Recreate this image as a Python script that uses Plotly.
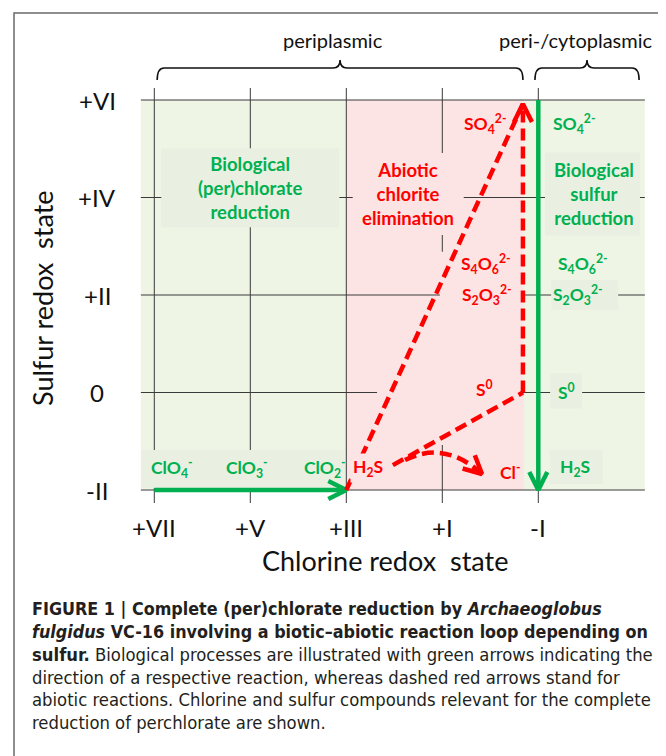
import math
import plotly.graph_objects as go

# ---------------- data ----------------
chlorine_ticks = [7, 5, 3, 1, -1]
chlorine_labels = ["+VII", "+V", "+III", "+I", "-I"]
sulfur_ticks = [6, 4, 2, 0, -2]
sulfur_labels = ["+VI", "+IV", "+II", "0", "-II"]

# background regions along the chlorine axis
region_x0 = [7.28, 3.0]
region_x1 = [-3.22, -0.70]
region_kind = ["bio", "abiotic"]

# process labels
process_text = ["Biological<br>(per)chlorate<br>reduction",
                "Abiotic<br>chlorite<br>elimination",
                "Biological<br>sulfur<br>reduction"]
process_x = [5.0, 1.71, -2.16]
process_y = [4.2, 4.07, 4.07]
process_kind = ["bio", "abiotic", "bio"]

# compound labels
compound_text = ["ClO<sub>4</sub><sup>-</sup>", "ClO<sub>3</sub><sup>-</sup>",
                 "ClO<sub>2</sub><sup>-</sup>", "H<sub>2</sub>S", "Cl<sup>-</sup>",
                 "SO<sub>4</sub><sup>2-</sup>", "S<sub>4</sub>O<sub>6</sub><sup>2-</sup>",
                 "S<sub>2</sub>O<sub>3</sub><sup>2-</sup>", "S<sup>0</sup>",
                 "SO<sub>4</sub><sup>2-</sup>", "S<sub>4</sub>O<sub>6</sub><sup>2-</sup>",
                 "S<sub>2</sub>O<sub>3</sub><sup>2-</sup>", "S<sup>0</sup>", "H<sub>2</sub>S"]
compound_x = [6.63, 5.07, 3.44, 2.55, -0.43, 0.11, 0.09, 0.07, 0.13,
              -1.76, -1.93, -1.83, -1.58, -1.76]
compound_y = [-1.55, -1.55, -1.55, -1.55, -1.63, 5.51, 2.64, 2.0, 0.09,
              5.51, 2.64, 2.0, 0.03, -1.55]
compound_kind = ["bio", "bio", "bio", "abiotic", "abiotic", "abiotic", "abiotic",
                 "abiotic", "abiotic", "bio", "bio", "bio", "bio", "bio"]
compound_on_top = [False, False, False, True, False, False, False, False, False,
                   False, False, False, False, False]

# biological reactions (solid green arrows)
bio_x0 = [7, -1]
bio_y0 = [-2, 6]
bio_x1 = [3, -1]
bio_y1 = [-2, -2]

# abiotic reactions (dashed red arrows); head = draw arrowhead at end
abio_x0 = [3, 2.03, -0.68]
abio_y0 = [-2, -1.49, 0.0]
abio_x1 = [-0.68, -0.68, -0.68]
abio_y1 = [5.92, 0.0, 5.92]
abio_head = [False, False, True]
# curved abiotic reaction H2S -> Cl-  (start, control, end)
curve_x = [1.777, 0.944, 0.173]
curve_y = [-1.385, -0.975, -1.672]

# compartments (brackets)
bracket_text = ["periplasmic", "peri-/cytoplasmic"]
bracket_x0 = [6.94, -0.93]
bracket_x1 = [-0.68, -3.10]
bracket_label_x = [3.28, -1.785]

caption_lines = [
    "<b>FIGURE 1 | Complete (per)chlorate reduction by <i>Archaeoglobus</i></b>",
    "<b><i>fulgidus</i> VC-16 involving a biotic\u2013abiotic reaction loop depending on</b>",
    "<b>sulfur.</b> Biological processes are illustrated with green arrows indicating the",
    "direction of a respective reaction, whereas dashed red arrows stand for",
    "abiotic reactions. Chlorine and sulfur compounds relevant for the complete",
    "reduction of perchlorate are shown.",
]

# ---------------- styles ----------------
W, H = 666, 756
OFF = 8  # page body margin
XR = (3 + (346.3 - OFF) / 48.0, 3 + (346.3 - OFF) / 48.0 - W / 48.0)
YR = (6 + (100 - OFF) / 48.75 - H / 48.75, 6 + (100 - OFF) / 48.75)
GREEN = "#00B050"
RED = "#FF0000"
BG = {"bio": "#EEF5E5", "abiotic": "#FDE4E4"}
BOX = {"bio": "#E9F0E1", "abiotic": "#FDE4E4"}
TXT = {"bio": GREEN, "abiotic": RED}
GRID = "#3a3a3a"
FONT = "Lato, Carlito, 'Open Sans', sans-serif"
CAPFONT = "'Liberation Sans Narrow', 'DejaVu Sans Condensed', 'Liberation Sans', sans-serif"
cap_size = [17.8, 17.8, 18.3, 18.3, 18.3, 18.3]

# label box geometry in px: (width, height, x offset, y offset)
process_box = [(178, 79, 0, 0), (111, 82, 0, 0), (95, 83, -1.5, 0)]
compound_box = [None, (204, 38, -4, 1), None, None, None,
                None, (81, 32, -5.5, 4), (81, 28, -6.5, 2), (144, 135, -35, -10.5),
                None, None, (67, 30, 6.5, 0), (32, 35, 0, 0), (53, 34, 1.5, -1)]


def to_px(x, y):
    return ((x - XR[0]) / (XR[1] - XR[0]) * W + OFF,
            (YR[1] - y) / (YR[1] - YR[0]) * H + OFF)


def from_px(px, py):
    return (XR[0] + (px - OFF) / W * (XR[1] - XR[0]),
            YR[1] - (py - OFF) / H * (YR[1] - YR[0]))


def ux(px):
    return px / W * (XR[1] - XR[0])


def uy(py):
    return -py / H * (YR[1] - YR[0])


shapes = []
for x0, x1, k in zip(region_x0, region_x1, region_kind):
    shapes.append(dict(type="rect", xref="x", yref="y", x0=x0, x1=x1,
                       y0=min(sulfur_ticks), y1=max(sulfur_ticks),
                       fillcolor=BG[k], line=dict(width=0), layer="below"))
ext_top = max(sulfur_ticks) + uy(-12)
ext_bot = min(sulfur_ticks) + uy(13)
for cx in chlorine_ticks:
    shapes.append(dict(type="line", xref="x", yref="y", x0=cx, x1=cx, y0=ext_bot, y1=ext_top,
                       line=dict(color=GRID, width=1), layer="below"))
for sy in sulfur_ticks:
    shapes.append(dict(type="line", xref="x", yref="y", x0=region_x0[0], x1=region_x1[0],
                       y0=sy, y1=sy, line=dict(color=GRID, width=1), layer="below"))


def add_box(x, y, spec, color):
    w, h, ox, oy = spec
    cpx, cpy = to_px(x, y)
    ax0, ay0 = from_px(cpx + ox - w / 2, cpy + oy - h / 2)
    ax1, ay1 = from_px(cpx + ox + w / 2, cpy + oy + h / 2)
    shapes.append(dict(type="rect", xref="x", yref="y", x0=ax0, x1=ax1, y0=ay0, y1=ay1,
                       fillcolor=color, line=dict(width=0), layer="below"))


for x, y, k, spec in zip(process_x, process_y, process_kind, process_box):
    if spec:
        add_box(x, y, spec, BOX[k])
for x, y, k, spec in zip(compound_x, compound_y, compound_kind, compound_box):
    if spec:
        add_box(x, y, spec, BOX[k])

fig = go.Figure()


def head(xa, ya, xb, yb, color, L=18, Wd=9):
    pa = to_px(xa, ya)
    pb = to_px(xb, yb)
    dx, dy = pb[0] - pa[0], pb[1] - pa[1]
    n = math.hypot(dx, dy)
    dx, dy = dx / n, dy / n
    nx, ny = -dy, dx
    q1 = from_px(pb[0] - L * dx + Wd * nx, pb[1] - L * dy + Wd * ny)
    q2 = from_px(pb[0] - L * dx - Wd * nx, pb[1] - L * dy - Wd * ny)
    fig.add_trace(go.Scatter(x=[q1[0], xb, q2[0]], y=[q1[1], yb, q2[1]], mode="lines",
                             line=dict(color=color, width=4.5), hoverinfo="skip",
                             showlegend=False))


for x0, y0, x1, y1 in zip(bio_x0, bio_y0, bio_x1, bio_y1):
    fig.add_trace(go.Scatter(x=[x0, x1], y=[y0, y1], mode="lines",
                             line=dict(color=GREEN, width=4.5), hoverinfo="skip",
                             showlegend=False))
    head(x0, y0, x1, y1, GREEN)

for x0, y0, x1, y1, hd in zip(abio_x0, abio_y0, abio_x1, abio_y1, abio_head):
    fig.add_trace(go.Scatter(x=[x0, x1], y=[y0, y1], mode="lines",
                             line=dict(color=RED, width=4.5, dash="12px,6px"),
                             hoverinfo="skip", showlegend=False))
    if hd:
        head(x0, y0, x1, y1, RED)

shapes.append(dict(type="path", xref="x", yref="y",
                   path=f"M {curve_x[0]},{curve_y[0]} Q {curve_x[1]},{curve_y[1]} {curve_x[2]},{curve_y[2]}",
                   line=dict(color=RED, width=4.5, dash="12px,6px"), layer="above"))
head(curve_x[1], curve_y[1], curve_x[2], curve_y[2], RED)

# brackets
yb_end = from_px(0, 80)[1]
yb_bar = from_px(0, 68)[1]
yb_top = from_px(0, 60)[1]
for x0, x1 in zip(bracket_x0, bracket_x1):
    xc = (x0 + x1) / 2
    r = ux(7)
    path = (f"M {x0},{yb_end} Q {x0},{yb_bar} {x0 + r},{yb_bar} L {xc - r},{yb_bar} "
            f"Q {xc},{yb_bar} {xc},{yb_top} Q {xc},{yb_bar} {xc + r},{yb_bar} "
            f"L {x1 - r},{yb_bar} Q {x1},{yb_bar} {x1},{yb_end}")
    shapes.append(dict(type="path", xref="x", yref="y", path=path,
                       line=dict(color="#111111", width=1.6), layer="above"))

# frame
fx = (14 - OFF) / W
fy = 1 - (13 - OFF) / H
shapes.append(dict(type="path", xref="paper", yref="paper",
                   path=f"M {fx},-0.05 L {fx},{fy} L 1.05,{fy}",
                   line=dict(color="#6a6a6a", width=1.5)))

ann = []
for t, x, y, k in zip(process_text, process_x, process_y, process_kind):
    ann.append(dict(x=x, y=y, xref="x", yref="y", text=f"<b>{t}</b>", showarrow=False,
                    font=dict(family=FONT, size=18.5, color=TXT[k]), align="center"))
for t, x, y, k, top in zip(compound_text, compound_x, compound_y, compound_kind, compound_on_top):
    a = dict(x=x, y=y, xref="x", yref="y", text=f"<b>{t}</b>", showarrow=False,
             font=dict(family=FONT, size=17.5, color=TXT[k]))
    if top:
        a.update(bgcolor=BG[k], borderpad=2)
    ann.append(a)
ytick_x = from_px(97, 0)[0]
xtick_y = from_px(0, 527)[1]
for v, t in zip(chlorine_ticks, chlorine_labels):
    ann.append(dict(x=v, y=xtick_y, xref="x", yref="y", text=t, showarrow=False,
                    font=dict(family=FONT, size=24, color="#111111")))
for v, t in zip(sulfur_ticks, sulfur_labels):
    ann.append(dict(x=ytick_x, y=v, xref="x", yref="y", text=t, showarrow=False,
                    font=dict(family=FONT, size=24, color="#111111")))
tx, ty = from_px(385, 560)
ann.append(dict(x=tx, y=ty, xref="x", yref="y", text="Chlorine redox&nbsp; state",
                showarrow=False, font=dict(family=FONT, size=27, color="#111111")))
tx, ty = from_px(42, 298)
ann.append(dict(x=tx, y=ty, xref="x", yref="y", text="Sulfur redox&nbsp; state", textangle=-90,
                showarrow=False, font=dict(family=FONT, size=27, color="#111111")))
bly = from_px(0, 40)[1]
for t, x in zip(bracket_text, bracket_label_x):
    ann.append(dict(x=x, y=bly, xref="x", yref="y", text=t, showarrow=False,
                    font=dict(family=FONT, size=20, color="#111111")))
cap_y = [608, 631, 654, 677, 699, 722]
for t, py, sz in zip(caption_lines, cap_y, cap_size):
    ann.append(dict(x=(30 - OFF) / W, y=1 - (py - OFF) / H, xref="paper", yref="paper", text=t,
                    showarrow=False, xanchor="left", yanchor="middle", align="left",
                    font=dict(family=CAPFONT, size=sz, color="#231F20")))

fig.update_layout(
    width=W, height=H, margin=dict(l=0, r=0, t=0, b=0),
    paper_bgcolor="white", plot_bgcolor="white",
    xaxis=dict(range=list(XR), visible=False, fixedrange=True),
    yaxis=dict(range=list(YR), visible=False, fixedrange=True),
    shapes=shapes, annotations=ann, showlegend=False,
)
fig.write_html("out.html")
